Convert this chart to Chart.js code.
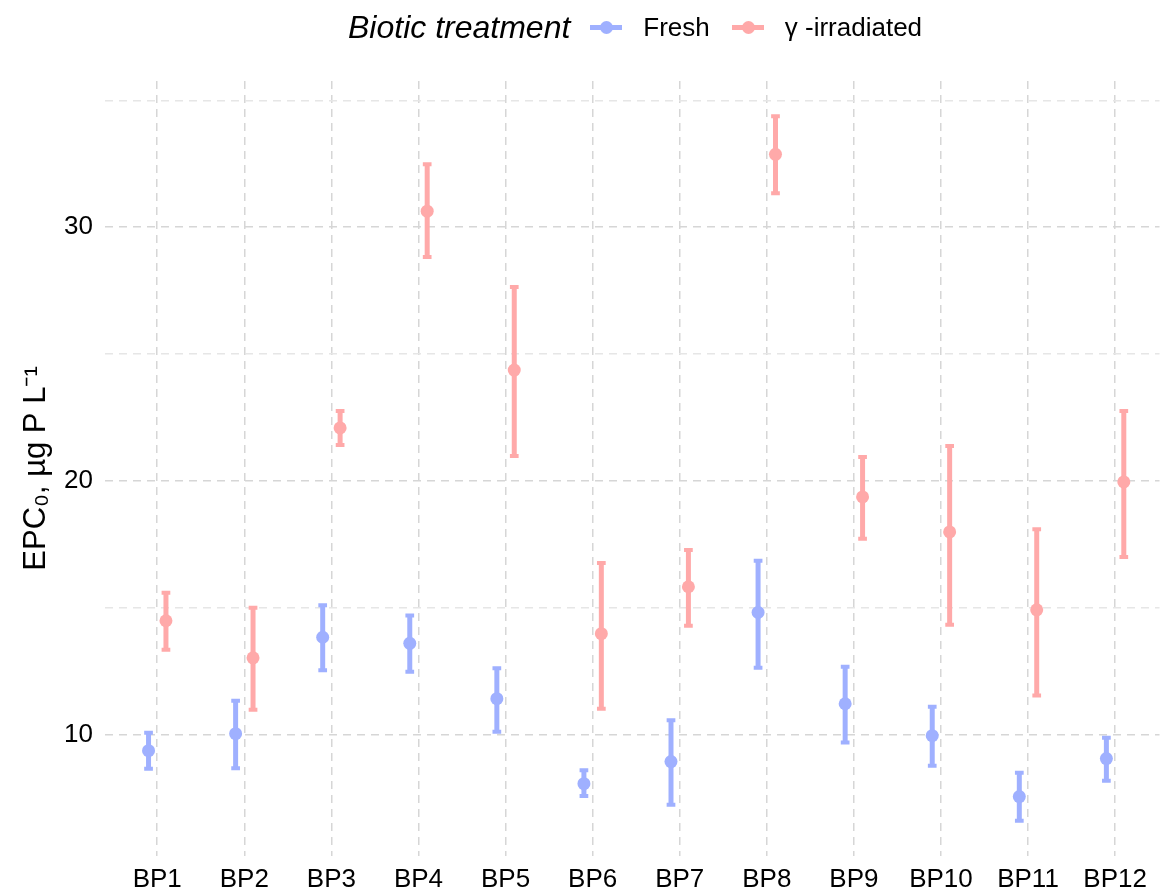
<!DOCTYPE html>
<html>
<head>
<meta charset="utf-8">
<script src="https://cdn.jsdelivr.net/npm/chart.js@4.4.1/dist/chart.umd.min.js"></script>
<style>
  body { margin: 0; background: #fff; font-family: "Liberation Sans", Arial, sans-serif; }
  #wrap { position: relative; width: 1166px; height: 889px; }
  #legend { position: absolute; left: 348px; top: 0; height: 54px; display: flex; align-items: center; color: #000; }
  #legend .title { font-style: italic; font-size: 32px; margin-right: 20px; }
  #legend .key { position: relative; width: 32px; height: 5px; margin-right: 21px; }
  #legend .key i { position: absolute; left: 10px; top: -4px; width: 13px; height: 13px; border-radius: 50%; }
  #legend .lab { font-size: 26px; margin-right: 22px; }
</style>
</head>
<body>
<div id="wrap">
  <canvas id="epcChart" width="1166" height="889"></canvas>
  <div id="legend"></div>
</div>
<script>
const categories = ["BP1", "BP2", "BP3", "BP4", "BP5", "BP6", "BP7", "BP8", "BP9", "BP10", "BP11", "BP12"];

const seriesNames = ["Fresh", "γ -irradiated"];
const seriesColors = ["#9fb0ff", "#ffa9a9"];

const freshMean = [9.37, 10.04, 13.84, 13.6, 11.42, 8.07, 8.94, 14.82, 11.22, 9.96, 7.56, 9.06];
const freshLow = [8.66, 8.68, 12.54, 12.48, 10.12, 7.58, 7.24, 12.64, 9.69, 8.78, 6.61, 8.19];
const freshHigh = [10.08, 11.34, 15.1, 14.7, 12.62, 8.6, 10.57, 16.85, 12.68, 11.1, 8.5, 9.88];

const irrMean = [14.49, 13.03, 22.09, 30.63, 24.37, 13.98, 15.83, 32.87, 19.37, 17.99, 14.92, 19.96];
const irrLow = [13.35, 10.98, 21.42, 28.82, 20.98, 11.02, 14.29, 31.34, 17.72, 14.33, 11.54, 17.0];
const irrHigh = [15.59, 15.0, 22.76, 32.48, 27.64, 16.77, 17.28, 34.37, 20.94, 21.38, 18.1, 22.76];

const yMajor = [10, 20, 30];
const yMinor = [15, 25, 35];

const dodge = 0.1;

function points(mean, low, high, shift) {
  return mean.map((v, i) => ({ x: i + 1 + shift, y: v, low: low[i], high: high[i] }));
}

// whiskers with caps, drawn under the points
const errorBars = {
  id: "errorBars",
  beforeDatasetsDraw(chart) {
    const { ctx, scales: { x, y } } = chart;
    chart.data.datasets.forEach((ds) => {
      ctx.save();
      ctx.strokeStyle = ds.borderColor;
      ctx.lineCap = "butt";
      ds.data.forEach((p) => {
        const px = x.getPixelForValue(p.x);
        const yLo = y.getPixelForValue(p.low);
        const yHi = y.getPixelForValue(p.high);
        const cl = x.getPixelForValue(p.x - 0.05);
        const cr = x.getPixelForValue(p.x + 0.05);
        ctx.lineWidth = 5;
        ctx.beginPath();
        ctx.moveTo(px, yLo);
        ctx.lineTo(px, yHi);
        ctx.stroke();
        ctx.lineWidth = 4;
        ctx.beginPath();
        ctx.moveTo(cl, yLo);
        ctx.lineTo(cr, yLo);
        ctx.moveTo(cl, yHi);
        ctx.lineTo(cr, yHi);
        ctx.stroke();
      });
      ctx.restore();
    });
  }
};

const legend = document.getElementById("legend");
legend.innerHTML = '<span class="title">Biotic treatment</span>' +
  seriesNames.map((n, i) =>
    `<span class="key" style="background:${seriesColors[i]}"><i style="background:${seriesColors[i]}"></i></span><span class="lab">${n}</span>`
  ).join("");

new Chart(document.getElementById("epcChart"), {
  type: "scatter",
  data: {
    datasets: [
      {
        label: seriesNames[0],
        data: points(freshMean, freshLow, freshHigh, -dodge),
        backgroundColor: seriesColors[0],
        borderColor: seriesColors[0],
        pointRadius: 6.5,
        borderWidth: 0
      },
      {
        label: seriesNames[1],
        data: points(irrMean, irrLow, irrHigh, dodge),
        backgroundColor: seriesColors[1],
        borderColor: seriesColors[1],
        pointRadius: 6.5,
        borderWidth: 0
      }
    ]
  },
  options: {
    responsive: false,
    animation: false,
    layout: { padding: { top: 81, left: 0, right: 0, bottom: 0 } },
    plugins: {
      legend: { display: false },
      tooltip: { enabled: false }
    },
    scales: {
      x: {
        type: "linear",
        min: 0.4,
        max: 12.51,
        afterBuildTicks: (axis) => { axis.ticks = categories.map((c, i) => ({ value: i + 1 })); },
        afterFit: (axis) => { axis.height = 33; },
        ticks: {
          callback: (v) => categories[v - 1],
          color: "#000",
          padding: 8,
          maxRotation: 0,
          font: { family: "'Liberation Sans', Arial, sans-serif", size: 26 }
        },
        grid: { color: "#d6d6d6", lineWidth: 1.5, drawTicks: false },
        border: { display: false, dash: [8, 6] }
      },
      y: {
        min: 5.22,
        max: 35.76,
        afterBuildTicks: (axis) => {
          axis.ticks = yMajor.concat(yMinor).sort((a, b) => a - b).map((v) => ({ value: v }));
        },
        afterFit: (axis) => { axis.width = 105; },
        ticks: {
          callback: (v) => (yMajor.includes(v) ? String(v) : ""),
          color: "#000",
          padding: 12,
          font: { family: "'Liberation Sans', Arial, sans-serif", size: 26 }
        },
        grid: {
          color: (c) => (c.tick && yMajor.includes(c.tick.value) ? "#d6d6d6" : "#e6e6e6"),
          lineWidth: 1.5,
          drawTicks: false
        },
        border: { display: false, dash: [8, 6] },
        title: {
          display: true,
          text: "EPC₀, µg P L⁻¹",
          color: "#000",
          padding: { top: 18, bottom: 0 },
          font: { family: "'Liberation Sans', Arial, sans-serif", size: 31 }
        }
      }
    }
  },
  plugins: [errorBars]
});
</script>
</body>
</html>
